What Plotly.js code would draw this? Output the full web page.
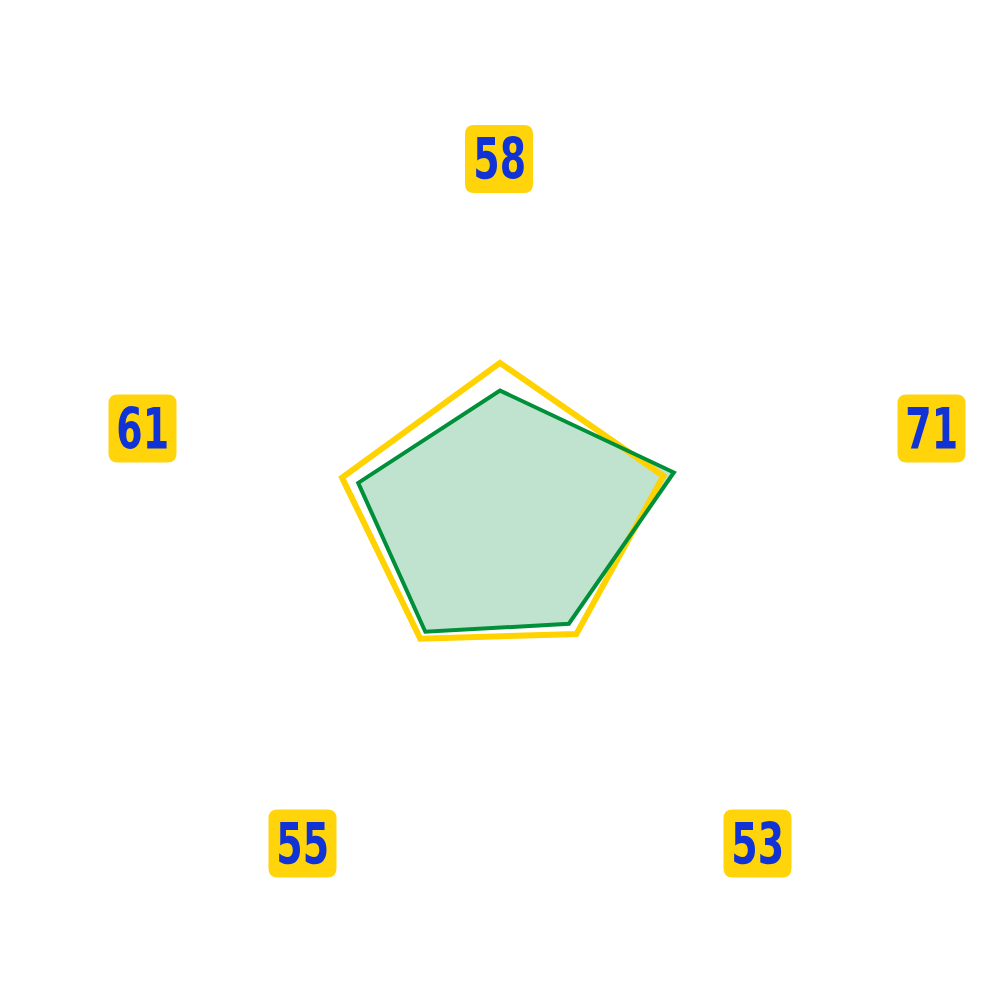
<!DOCTYPE html>
<html>
<head>
<meta charset="utf-8">
<script src="https://cdn.plot.ly/plotly-3.0.1.min.js"></script>
<style>
  html, body { margin: 0; padding: 0; background: #ffffff; }
  #plot { width: 1000px; height: 1000px; }
</style>
</head>
<body>
<div id="plot"></div>
<script>
// axis labels (clockwise from the top) and the two series
var categories = ['58', '71', '53', '55', '61'];
var greenValues = [58, 70.5, 52, 54.8, 61];
var yellowValues = [65.8, 67.4, 55.6, 57.2, 65.8];

// label box centres in page pixels, same order as categories
var labelX = [499, 931.5, 757.5, 302.5, 142.5];
var labelY = [159, 428.5, 843.5, 843.5, 428.5];
var boxSize = 68;
var boxRadius = 9;

function closed(arr) {
    return arr.concat([arr[0]]);
}
// one extra point past the start so the outline gets a proper corner at the top
function looped(arr) {
    return arr.concat([arr[0], arr[1]]);
}

// green fill first, then the yellow outline, then the green outline on top
var traceGreenFill = {
    type: 'scatterpolar',
    r: closed(greenValues),
    theta: closed(categories),
    mode: 'lines',
    line: { color: 'rgba(0,0,0,0)', width: 0 },
    fill: 'toself',
    fillcolor: 'rgba(0, 144, 58, 0.25)',
    hoverinfo: 'skip'
};

var traceYellow = {
    type: 'scatterpolar',
    r: looped(yellowValues),
    theta: looped(categories),
    mode: 'lines',
    line: { color: '#FFD200', width: 6 },
    fill: 'none',
    hoverinfo: 'skip'
};

var traceGreen = {
    type: 'scatterpolar',
    r: looped(greenValues),
    theta: looped(categories),
    mode: 'lines',
    line: { color: '#00903A', width: 4 },
    fill: 'none',
    hoverinfo: 'skip'
};

// rounded label boxes + text, placed in paper coords (margin 0, so paper = px / 1000)
var shapes = [];
var annotations = [];
for (var i = 0; i < categories.length; i++) {
    var cx = labelX[i] / 1000;
    var cy = 1 - labelY[i] / 1000;
    var h = boxSize / 2000;
    var rr = boxRadius / 1000;
    var x0 = cx - h, x1 = cx + h, y0 = cy - h, y1 = cy + h;
    var path = 'M' + (x0 + rr) + ',' + y0 +
        ' L' + (x1 - rr) + ',' + y0 +
        ' Q' + x1 + ',' + y0 + ' ' + x1 + ',' + (y0 + rr) +
        ' L' + x1 + ',' + (y1 - rr) +
        ' Q' + x1 + ',' + y1 + ' ' + (x1 - rr) + ',' + y1 +
        ' L' + (x0 + rr) + ',' + y1 +
        ' Q' + x0 + ',' + y1 + ' ' + x0 + ',' + (y1 - rr) +
        ' L' + x0 + ',' + (y0 + rr) +
        ' Q' + x0 + ',' + y0 + ' ' + (x0 + rr) + ',' + y0 + ' Z';
    shapes.push({
        type: 'path',
        xref: 'paper',
        yref: 'paper',
        path: path,
        fillcolor: '#FFD40A',
        line: { width: 0 },
        layer: 'above'
    });
    annotations.push({
        xref: 'paper',
        yref: 'paper',
        x: cx,
        y: cy,
        xanchor: 'center',
        yanchor: 'middle',
        showarrow: false,
        text: '<b>' + categories[i] + '</b>',
        font: { family: 'DejaVu Sans Condensed, sans-serif', size: 57, color: '#1133D6' }
    });
}

var layout = {
    width: 1000,
    height: 1000,
    margin: { l: 0, r: 0, t: 0, b: 0 },
    paper_bgcolor: '#ffffff',
    showlegend: false,
    polar: {
        domain: { x: [0.2125, 0.7875], y: [0.1835, 0.7585] },
        bgcolor: 'rgba(0,0,0,0)',
        angularaxis: {
            type: 'category',
            categoryarray: categories,
            direction: 'clockwise',
            rotation: 90,
            showgrid: false,
            showline: false,
            showticklabels: false,
            ticks: ''
        },
        radialaxis: {
            range: [19, 100],
            visible: false,
            showgrid: false,
            showline: false,
            showticklabels: false,
            ticks: ''
        }
    },
    shapes: shapes,
    annotations: annotations
};

Plotly.newPlot('plot', [traceGreenFill, traceYellow, traceGreen], layout, { displayModeBar: false, staticPlot: true })
    .then(function(gd) {
        // squeeze the label digits horizontally, the original uses a tall condensed face
        var texts = gd.querySelectorAll('.annotation-text');
        for (var k = 0; k < texts.length; k++) {
            var bb = texts[k].getBBox();
            var mid = bb.x + bb.width / 2;
            texts[k].setAttribute('transform',
                'translate(' + mid + ',0) scale(0.74,1) translate(' + (-mid) + ',0)');
        }
    });
</script>
</body>
</html>
